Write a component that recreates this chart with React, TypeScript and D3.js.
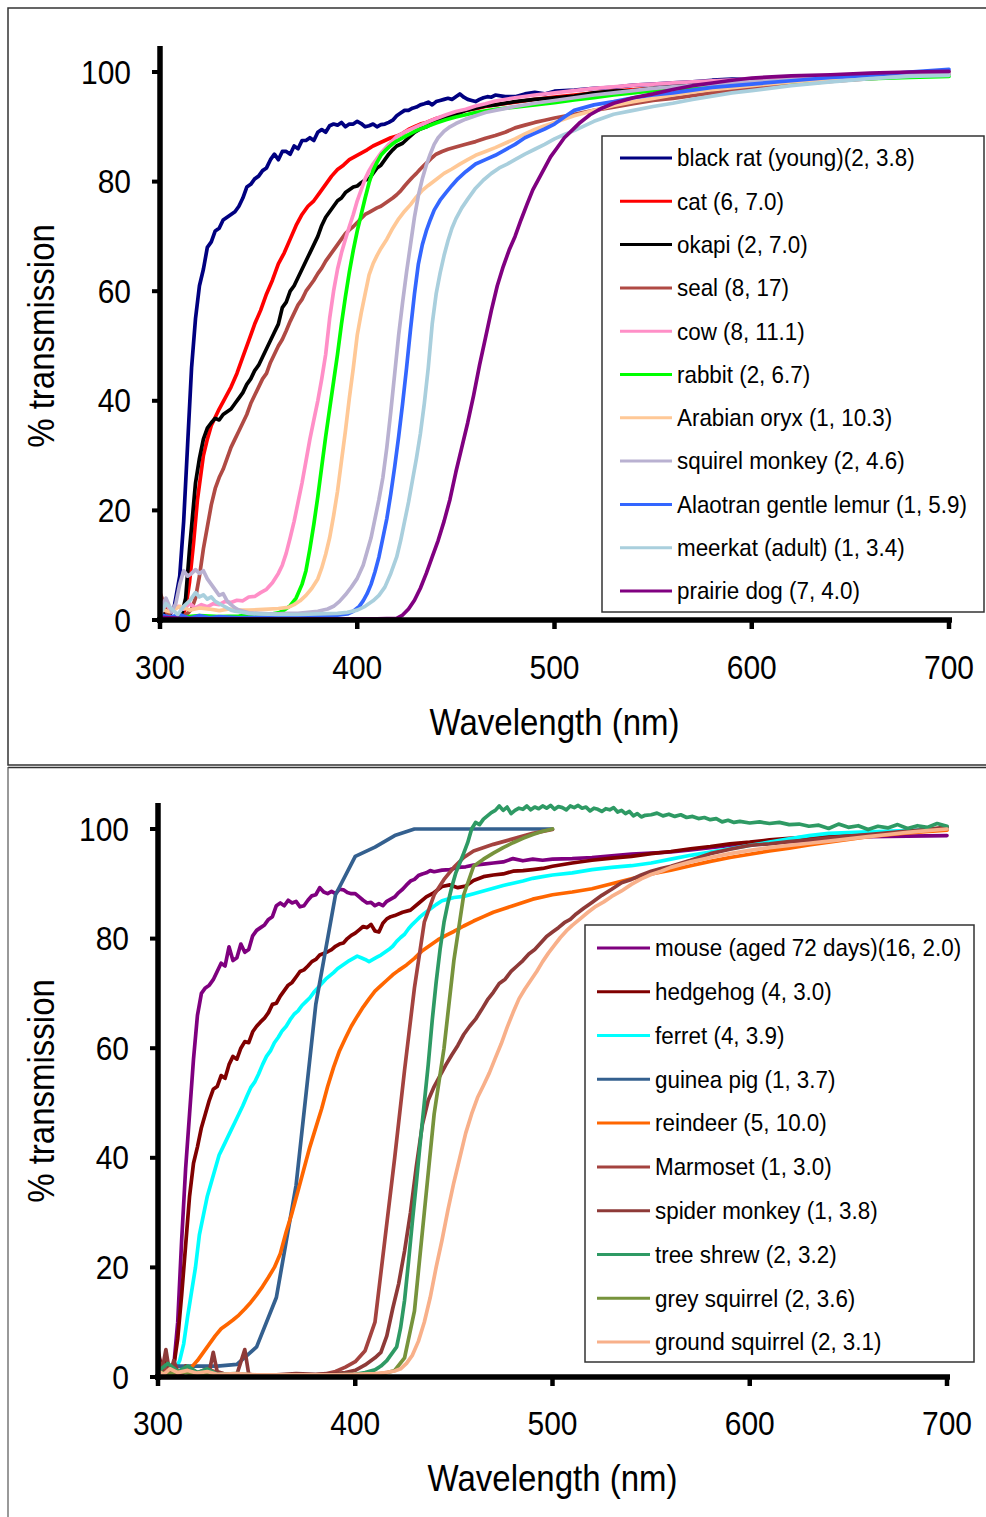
import React from 'react';
import * as d3 from 'd3';

type Pt = [number, number];

// ---------- shared axes ----------
const xTicks = [300, 400, 500, 600, 700];
const yTicks = [0, 20, 40, 60, 80, 100];

// ---------- TOP PANEL ----------
const topNames = [
  'black rat (young)(2, 3.8)', 'cat (6, 7.0)', 'okapi (2, 7.0)', 'seal (8, 17)', 'cow (8, 11.1)',
  'rabbit (2, 6.7)', 'Arabian oryx (1, 10.3)', 'squirel monkey (2, 4.6)', 'Alaotran gentle lemur (1, 5.9)',
  'meerkat (adult) (1, 3.4)', 'prairie dog (7, 4.0)',
];
const topColors = ['#000080', '#FF0000', '#000000', '#B04A44', '#FF8FC7', '#00FF00', '#FFC896', '#B9B1D1', '#3366FF', '#A9CFDD', '#800080'];

const blackRat: Pt[] = [[300,1],[304,0.5],[307,2],[310,8],[312,18],[314,32],[316,46],[318,55],[320,61],[322,64],[324,68],[326,69],[328,71],[330,71.5],[332,73],[334,73.5],[336,74],[338,74.5],[340,75.5],[342,77],[344,79],[346,79.5],[348,80.5],[350,81],[352,82],[354,82.5],[356,84],[358,85],[360,84],[362,85.5],[364,85.5],[366,85],[368,86.5],[370,86],[372,87.5],[374,87.5],[376,88],[378,87.5],[380,89],[382,89.5],[384,89],[386,90.2],[388,90.5],[390,90.3],[392,90.8],[394,90],[396,90.5],[398,90.5],[400,91],[402,90.6],[404,90],[406,90.2],[408,90.5],[410,90],[412,90.4],[414,90.5],[416,90.8],[418,91.2],[420,92],[422,92.5],[424,93],[426,93],[428,93.4],[430,93.6],[432,94],[434,94.2],[436,94.5],[438,94],[440,94.6],[442,94.8],[444,95],[446,95.2],[448,95],[450,95.5],[452,96],[454,95.4],[456,95],[458,94.8],[460,94.6],[462,95],[464,95.3],[466,95.5],[468,95.4],[470,95.8],[475,95.5],[480,95.5],[485,96],[490,96.3],[495,96],[500,96.5],[510,96.7],[520,97],[530,97.2],[540,97.6],[550,97.8],[560,98],[570,98.2],[580,98.5],[590,98.7],[600,98.6],[620,99],[640,99.2],[660,99.5],[680,99.8],[700,100]];
const cat: Pt[] = [[300,3],[303,1],[306,0.5],[309,0.5],[311,0.8],[313,2],[315,7],[317,14],[319,22],[322,30],[324,33],[326,35.5],[328,37],[330,38.5],[333,40.5],[336,42.5],[339,45],[342,48],[345,51],[348,54],[351,56.5],[354,59.5],[357,62],[360,65],[363,67],[366,69.5],[369,72],[372,74],[375,75.5],[378,76.5],[381,78],[384,79.5],[387,81],[390,82.2],[393,83],[396,84],[399,84.6],[402,85.2],[405,85.8],[408,86.5],[411,87],[414,87.5],[417,88],[420,88.3],[423,88.8],[426,89.5],[429,90],[432,90.5],[435,90.8],[440,91.5],[445,92],[450,92.5],[455,93],[460,93.3],[465,93.7],[470,94],[480,94.5],[490,95],[500,95.4],[510,95.8],[520,96.2],[530,96.5],[540,96.8],[550,97],[560,97.3],[570,97.5],[580,97.8],[590,98],[600,98.1],[620,98.4],[640,98.8],[660,99.1],[680,99.4],[700,99.6]];
const okapi: Pt[] = [[300,2],[303,0.5],[306,0.5],[309,0.5],[311,1],[313,4],[315,13],[317,21],[318,25],[320,29.5],[322,33],[324,35],[326,36],[328,36.8],[330,36.5],[332,37.5],[334,38],[336,38.5],[338,39.5],[340,40.5],[342,41.5],[344,43],[346,44],[348,45.5],[350,46.5],[352,48],[354,49.5],[356,51],[358,52.5],[360,54],[362,57],[364,58],[366,60],[368,61],[370,62.5],[372,64],[374,65.5],[376,67],[378,68.5],[380,70],[382,72],[384,73.5],[386,74.5],[388,75.5],[390,76.5],[392,77],[394,78],[396,78.5],[398,79],[400,79.2],[402,79.8],[404,80.3],[406,80.5],[408,81.5],[410,82.5],[412,83],[414,84],[416,85],[418,85.8],[420,86.5],[423,87],[426,88],[429,89],[432,89.6],[435,90],[440,91],[445,91.8],[450,92.2],[455,93],[460,93.4],[465,93.8],[470,94],[480,94.6],[490,95],[500,95.3],[510,95.6],[520,96.2],[530,96.5],[540,96.6],[550,97],[560,97.4],[580,97.8],[600,98.2],[620,98.5],[640,98.9],[660,99.2],[680,99.5],[700,99.8]];
const seal: Pt[] = [[300,5],[302,3],[304,1],[306,0.5],[308,0.3],[310,0.5],[312,0.8],[314,1.2],[316,2],[318,4],[320,8],[322,13],[324,17],[326,21],[328,24],[330,26],[332,27.5],[334,29.5],[336,31.5],[338,33],[340,34.5],[342,36],[344,37.5],[346,39.5],[348,41],[350,42.5],[352,44],[354,45],[356,47],[358,48.5],[360,50],[362,51.2],[364,52.8],[366,54.5],[368,56],[370,57.5],[372,58.5],[374,60],[376,61],[378,62],[380,63.2],[382,64.2],[384,65.5],[386,66.5],[388,67.5],[390,68.5],[392,69.5],[394,70.5],[396,71.2],[398,71.8],[400,72.5],[402,73.3],[404,74],[406,74.4],[408,74.8],[410,75.2],[412,75.5],[414,76],[416,76.5],[418,77],[420,77.6],[422,78.3],[424,79.2],[426,80],[428,80.8],[430,81.5],[432,82.3],[434,83],[436,83.7],[438,84.4],[440,85],[443,85.5],[446,85.9],[450,86.3],[455,86.8],[460,87.3],[465,87.9],[470,88.4],[475,89],[480,89.8],[485,90.3],[490,90.8],[495,91.2],[500,91.6],[510,92.3],[520,93],[530,93.6],[540,94.2],[550,94.8],[560,95.2],[570,95.7],[580,96.2],[590,96.6],[600,97],[620,97.7],[640,98.3],[660,98.8],[680,99.2],[700,99.6]];
const cow: Pt[] = [[300,1],[303,3],[306,1.5],[309,2.5],[312,2],[315,3],[318,2.2],[321,2.8],[324,2.4],[327,3],[330,2.8],[333,3.4],[336,3.2],[339,3.6],[342,3.5],[345,4.2],[348,4.3],[351,5],[354,5.6],[357,6.8],[360,8.5],[362,10],[364,12.2],[366,15],[368,18],[370,21.5],[372,25],[374,29],[376,33],[378,36.5],[380,40],[382,44],[384,48.5],[386,55],[388,60],[390,64],[392,67],[394,69.5],[396,71.8],[398,74],[400,76.5],[402,78.5],[404,80.5],[406,82],[408,83.2],[410,84.2],[412,85.2],[414,86],[416,86.8],[418,87.5],[420,88.2],[425,89.2],[430,90],[435,90.8],[440,91.5],[445,92.2],[450,92.8],[455,93.2],[460,93.8],[465,94.2],[470,94.7],[480,95.3],[490,95.8],[500,96.2],[510,96.6],[520,97],[530,97.3],[540,97.6],[550,97.8],[560,98],[580,98.4],[600,98.7],[620,99],[640,99.2],[660,99.5],[680,99.7],[700,100]];
const rabbit: Pt[] = [[300,0.5],[310,0.5],[320,0.8],[330,0.6],[340,0.7],[345,0.9],[350,0.8],[355,1],[360,1.3],[363,1.8],[366,2.6],[369,4],[372,6.5],[374,9],[376,13],[378,17.5],[380,22.5],[382,28],[384,33.5],[386,38.5],[388,43.5],[390,48.5],[392,54],[394,59],[396,63.5],[398,67.5],[400,71],[402,74],[404,77],[406,79.8],[408,82],[410,83.5],[412,84.8],[414,85.6],[416,86.3],[418,86.9],[420,87.4],[425,88.4],[430,89.3],[435,90],[440,90.7],[445,91.3],[450,91.8],[455,92.2],[460,92.6],[470,93.2],[480,93.6],[490,94],[500,94.4],[510,94.9],[520,95.3],[530,95.8],[540,96.2],[550,96.6],[560,96.9],[580,97.4],[600,97.8],[620,98.2],[640,98.5],[660,98.8],[680,99],[700,99.2]];
const oryx: Pt[] = [[300,2],[305,1.5],[310,2.5],[315,1.8],[320,2.2],[325,2],[330,1.7],[335,2],[340,1.8],[345,1.8],[350,1.9],[355,2],[360,2.1],[365,2.3],[368,2.8],[371,3.5],[374,4.5],[377,5.8],[380,7.5],[382,9.5],[384,12],[386,15],[388,19],[390,23.5],[392,29],[394,34.5],[396,40.5],[398,46],[400,52],[402,56],[404,59.5],[406,63],[408,65],[410,66.5],[412,67.8],[415,69.5],[418,71.5],[421,73.2],[424,74.6],[427,75.8],[430,77.2],[433,78.4],[436,79.3],[440,80.4],[444,81.5],[448,82.3],[452,83.2],[456,84],[460,84.8],[465,85.5],[470,86.2],[475,87],[480,87.8],[485,88.7],[490,89.5],[495,90.2],[500,90.8],[510,92],[520,93],[530,93.9],[540,94.6],[550,95.2],[560,95.8],[570,96.3],[580,96.8],[600,97.5],[620,98.2],[640,98.7],[660,99.1],[680,99.5],[700,99.8]];
const squirrelMonkey: Pt[] = [[300,2],[303,4],[306,1.5],[308,3],[310,6.5],[312,9],[314,8],[316,8.5],[318,9.2],[320,8.5],[322,9],[324,7.5],[326,6.5],[328,5.5],[330,4.5],[332,4.8],[334,3.5],[336,2.8],[338,2.2],[340,1.8],[345,1.3],[350,1.2],[355,1.1],[360,1.1],[365,1.2],[370,1.2],[375,1.4],[380,1.6],[385,2],[388,2.5],[391,3.4],[394,4.6],[397,6],[400,7.6],[403,10],[405,12.5],[407,15],[409,18.5],[411,22],[413,26],[415,31.5],[417,38],[419,45],[421,52],[423,58],[425,63.5],[427,68.5],[429,73.5],[431,77.5],[433,80.5],[435,83],[437,85],[439,86.8],[441,88],[444,89.2],[447,90],[450,90.6],[455,91.4],[460,92],[465,92.6],[470,93],[480,93.7],[490,94.3],[500,94.8],[510,95.3],[520,95.8],[530,96.2],[540,96.6],[550,97],[560,97.3],[580,97.8],[600,98.2],[620,98.6],[640,99],[660,99.2],[680,99.5],[700,99.7]];
const lemur: Pt[] = [[300,1],[305,0.5],[310,1],[315,0.3],[320,0.8],[325,0.4],[330,0.6],[340,0.4],[350,0.5],[360,0.5],[370,0.6],[380,0.7],[390,0.9],[395,1.1],[398,1.6],[401,2.5],[403,3.5],[405,4.8],[407,6.5],[409,8.8],[411,11.5],[413,15],[415,18.5],[417,23],[419,28],[421,33.5],[423,39.5],[425,46],[427,53],[429,59.5],[431,65],[433,68.5],[435,71],[437,73],[439,74.8],[442,76.6],[445,78],[448,79.3],[451,80.5],[455,81.8],[460,83.2],[465,84],[470,84.8],[475,85.8],[480,86.8],[485,88],[490,88.8],[495,89.6],[500,90.5],[505,91.8],[510,93],[520,94],[530,94.6],[540,95.3],[550,95.8],[560,96.2],[570,96.7],[580,97.2],[600,97.8],[620,98.4],[640,99],[660,99.4],[680,100],[700,100.5]];
const meerkat: Pt[] = [[300,1],[303,3],[306,2],[309,1],[312,2.5],[315,3.5],[318,5],[320,4.2],[322,4.6],[324,3.8],[326,4.2],[328,3.4],[330,3],[332,2.6],[334,2.2],[336,1.8],[338,1.6],[340,1.5],[345,1.2],[350,1.1],[360,1],[370,1],[380,1.1],[390,1.2],[395,1.4],[400,1.8],[404,2.5],[408,3.5],[411,4.5],[414,6],[417,8.5],[420,11.5],[422,14.5],[424,18],[426,21.5],[428,25.5],[430,29.5],[432,34],[434,39.5],[436,46],[438,54],[440,59.5],[442,63.3],[444,66.5],[446,69.2],[448,71.5],[450,73.2],[453,75.2],[456,76.8],[460,78.8],[464,80.3],[468,81.5],[472,82.5],[476,83.2],[480,84],[485,85],[490,85.9],[495,86.8],[500,87.8],[505,88.6],[510,89.3],[520,91],[530,92.3],[540,93],[550,93.7],[560,94.3],[570,95],[580,95.6],[590,96.2],[600,96.6],[620,97.5],[640,98.2],[660,98.8],[680,99.2],[700,99.4]];
const prairieDog: Pt[] = [[300,0.5],[310,0.3],[320,0.2],[330,0.2],[340,0.2],[350,0.2],[360,0.2],[370,0.2],[380,0.2],[390,0.2],[400,0.2],[410,0.2],[420,0.3],[423,0.9],[426,2],[429,3.6],[432,5.8],[435,8.5],[438,11.5],[441,14.5],[444,18],[447,22],[450,27],[453,31.5],[456,36],[459,41],[462,46.5],[465,51.5],[468,56.5],[471,61],[474,64.5],[477,67.5],[480,70],[483,73],[486,75.8],[489,78.5],[492,80.5],[495,82.5],[498,84.5],[501,86],[505,88],[509,89.4],[513,90.8],[518,92.2],[524,93.4],[530,94.3],[540,95.3],[550,96],[560,96.8],[570,97.5],[580,98],[590,98.5],[600,98.9],[620,99.3],[640,99.5],[660,99.8],[680,100],[700,100.1]];

const topSeries = [blackRat, cat, okapi, seal, cow, rabbit, oryx, squirrelMonkey, lemur, meerkat, prairieDog];

// ---------- BOTTOM PANEL ----------
const bottomNames = [
  'mouse (aged 72 days)(16, 2.0)', 'hedgehog (4, 3.0)', 'ferret (4, 3.9)', 'guinea pig (1, 3.7)', 'reindeer (5, 10.0)',
  'Marmoset (1, 3.0)', 'spider monkey (1, 3.8)', 'tree shrew (2, 3.2)', 'grey squirrel (2, 3.6)', 'ground squirrel (2, 3.1)',
];
const bottomColors = ['#7F007F', '#800000', '#00FFFF', '#34608F', '#FF6600', '#A4433F', '#8E3A38', '#2E9A64', '#77933C', '#F8B08A'];

const mouse: Pt[] = [[300,4],[302,2],[304,0.5],[306,0.5],[308,2],[310,10],[312,25],[314,38],[316,48],[318,58],[320,66],[322,70],[324,71],[326,71.5],[328,72.5],[330,74],[332,75.5],[334,75],[336,78.5],[338,76],[340,76.5],[342,79],[344,77.5],[346,78],[348,80.5],[350,81.5],[352,82],[354,82.5],[356,83.5],[358,84],[360,86],[362,86.5],[364,86],[366,87],[368,86.5],[370,86.8],[372,85.8],[374,86],[376,87],[378,87.8],[380,88],[382,89.3],[384,88.5],[386,88.2],[388,88.6],[390,88.2],[392,89],[394,88.9],[396,88.4],[398,88.2],[400,88.2],[402,87.6],[404,87],[406,86.5],[408,86.6],[410,86],[412,86.4],[414,86],[416,86.8],[418,87.2],[420,87.6],[422,88.4],[424,89],[426,89.8],[428,90.5],[430,90.8],[432,91.5],[434,91.8],[436,92],[438,92.4],[440,92.2],[444,92.5],[448,92.6],[452,93],[456,93.1],[460,93.4],[465,93.6],[470,93.8],[475,94],[480,94.6],[485,94.2],[490,94.5],[495,94.3],[500,94.5],[510,94.6],[520,94.8],[530,95.1],[540,95.4],[550,95.6],[560,95.8],[570,96.2],[580,96.6],[590,97],[600,97.2],[610,97.4],[620,97.7],[640,98.2],[660,98.6],[680,98.7],[700,98.8]];
const hedgehog: Pt[] = [[300,5],[302,1],[304,3],[306,0.5],[308,2],[310,7],[312,15],[314,24],[316,33],[318,39],[320,42],[322,45.5],[324,48],[326,50.5],[328,52.5],[330,53],[332,55],[334,54.5],[336,57],[338,58.5],[340,58],[342,60],[344,61.2],[346,61],[348,63],[350,64],[352,64.8],[354,65.5],[356,66.5],[358,68],[360,68.2],[362,69.5],[364,70.5],[366,71.5],[368,72],[370,73],[372,74],[374,74.3],[376,75],[378,75.8],[380,76.2],[382,77],[384,77.3],[386,77.6],[388,78],[390,78.6],[392,79],[394,79.2],[396,80],[398,80.6],[400,81],[402,81.6],[404,82.2],[406,82],[408,82.6],[410,81.4],[412,81.2],[414,82.8],[416,83.6],[418,84],[420,84.2],[424,84.8],[428,85.2],[432,86.4],[436,87.6],[440,88.4],[444,89.5],[448,89.8],[452,89.3],[456,89.6],[460,90.6],[465,91.3],[470,91.6],[475,91.8],[480,92.3],[485,92.4],[490,92.6],[495,92.8],[500,93.2],[510,93.8],[520,94.3],[530,94.7],[540,95],[550,95.5],[560,95.9],[570,96.4],[580,96.8],[590,97.3],[600,97.6],[610,98],[620,98.3],[640,98.8],[660,99.2],[680,99.6],[700,100.1]];
const ferret: Pt[] = [[300,3],[303,1],[306,1],[309,1.5],[311,3],[313,6],[315,11],[317,15.5],[319,20],[321,26],[323,29.5],[325,33],[327,35.5],[329,38],[331,40.5],[333,42],[335,43.5],[337,45],[339,46.5],[341,48],[343,49.5],[345,51.2],[347,52.8],[349,53.8],[351,55.3],[353,57],[355,58.5],[357,59.5],[359,61],[361,62],[363,63.2],[365,64],[367,65.2],[369,66.2],[371,66.8],[373,67.8],[375,68.5],[377,69.2],[379,70.2],[381,71],[383,71.8],[385,72.6],[387,73.2],[389,73.8],[391,74.5],[393,75],[395,75.5],[397,76],[399,76.4],[401,76.8],[403,76.5],[405,76.2],[407,75.8],[409,76.2],[411,76.6],[413,77],[415,77.5],[417,78],[419,78.6],[421,79.5],[423,80.2],[425,80.8],[427,81.8],[429,82.6],[431,83.3],[433,84],[435,84.6],[438,85.4],[441,86.2],[444,86.9],[447,87.2],[450,87.5],[455,87.7],[460,88.2],[465,88.7],[470,89.2],[475,89.7],[480,90.1],[485,90.5],[490,91],[495,91.3],[500,91.6],[510,92],[520,92.6],[530,93],[540,93.3],[550,93.8],[560,94.5],[570,95.2],[580,95.8],[590,96.4],[600,97],[610,97.6],[620,98.2],[630,98.8],[640,99.2],[660,99.5],[680,99.7],[700,100]];
const guineaPig: Pt[] = [[300,2],[310,2],[320,2],[330,2],[340,2.3],[350,5.5],[360,14.5],[370,35],[380,68],[390,88],[400,95],[410,96.7],[420,98.8],[430,100],[440,100],[450,100],[460,100],[470,100],[480,100],[490,100],[500,100]];
const reindeer: Pt[] = [[300,2],[305,1],[310,0.8],[314,1],[317,1.8],[320,3],[323,4.5],[326,6],[329,7.5],[332,8.8],[335,9.6],[338,10.4],[341,11.3],[344,12.4],[347,13.6],[350,15],[353,16.5],[356,18.2],[359,20],[362,22.5],[365,26.5],[368,30],[371,34],[374,38],[377,42],[380,45.5],[383,49],[386,53],[389,56.5],[392,59.5],[395,61.8],[398,64],[401,65.8],[404,67.5],[407,69],[410,70.4],[413,71.4],[416,72.4],[419,73.4],[422,74.2],[426,75.2],[430,76.4],[434,77.8],[438,78.8],[442,79.8],[446,80.6],[450,81.3],[455,82.3],[460,83.2],[465,84],[470,84.8],[475,85.4],[480,86],[485,86.6],[490,87.2],[495,87.6],[500,88],[510,88.5],[520,89.1],[530,90],[540,90.9],[550,91.8],[560,92.5],[570,93.3],[580,94.1],[590,94.8],[600,95.4],[610,96],[620,96.5],[630,97.1],[640,97.6],[660,98.6],[680,99.3],[700,99.8]];
const marmoset: Pt[] = [[300,3],[303,1],[306,2],[308,0.5],[312,0.5],[316,1.5],[320,0.8],[325,1.5],[330,0.8],[335,0.5],[340,0.3],[350,0.3],[360,0.3],[370,0.3],[380,0.4],[385,0.6],[390,1],[395,1.8],[400,2.8],[405,4.8],[410,10],[415,25],[420,40],[425,56],[430,71],[435,83],[440,88],[445,90.8],[450,93],[455,94.8],[460,96],[470,97.2],[480,98.2],[490,99.2],[500,99.9]];
const spiderMonkey: Pt[] = [[300,4],[302,1],[304,5],[306,0.5],[308,3],[310,1],[312,0.5],[314,2],[316,0.5],[318,1],[322,0.5],[326,1],[328,4.5],[330,1],[334,0.5],[340,0.5],[344,5],[346,0.5],[350,0.3],[360,0.4],[370,0.6],[380,0.5],[390,0.6],[395,0.8],[400,1.2],[405,2.2],[410,3.5],[413,4.5],[416,7.5],[419,12.5],[422,17],[425,23],[428,30],[431,38.5],[434,46],[437,50.5],[440,53],[443,55],[446,57],[449,58.8],[452,60.5],[455,62.5],[458,64],[461,65.3],[464,67],[467,68.8],[470,70.2],[473,71.8],[476,72.6],[479,74],[482,75],[485,76],[488,77.2],[491,78],[494,79.2],[497,80.4],[500,81.2],[503,82],[506,82.9],[509,83.5],[512,84.5],[516,85.6],[520,86.6],[525,87.9],[530,89],[535,90.2],[540,90.8],[545,91.6],[550,92.3],[555,92.8],[560,93.2],[570,94.3],[580,95.5],[590,96.3],[600,97],[610,97.3],[620,97.7],[630,98],[640,98.4],[650,98.7],[660,99],[670,99.3],[680,99.6],[690,99.9],[700,100.4]];
const treeShrew: Pt[] = [[300,1],[305,2.5],[310,1],[315,2],[320,0.8],[325,1.5],[330,0.5],[340,0.6],[350,0.3],[360,0.3],[370,0.3],[380,0.3],[390,0.4],[400,0.5],[405,0.8],[410,1.3],[413,2],[416,3],[419,4.5],[421,5.5],[423,9],[425,14],[427,21],[429,28.5],[431,35.5],[433,43],[435,50],[437,57],[439,65],[441,72],[443,78],[445,83],[447,86.5],[449,89.5],[451,92],[453,93.8],[455,95.6],[457,97.5],[459,100],[461,101.2],[463,100.8],[465,101.8],[467,102.4],[469,103],[471,103.4],[473,104.2],[475,103.4],[477,104],[479,102.8],[481,103.4],[483,103.8],[485,103.6],[487,104.2],[489,103.5],[491,104],[493,103.7],[495,104.2],[497,103.8],[499,104.3],[501,103.6],[503,104.1],[505,103.9],[507,103.5],[509,104.2],[511,103.9],[513,104.3],[515,103.8],[517,104],[519,103.3],[521,103.8],[523,103.6],[525,103.2],[527,103.7],[529,103.5],[531,103.9],[533,103.1],[535,103.4],[537,102.8],[539,103.2],[541,102.4],[543,102.8],[545,102.2],[547,102.5],[550,102.6],[553,102.9],[556,102.4],[559,102.7],[562,102.3],[565,102.6],[568,102.1],[571,102.3],[574,101.9],[577,102.1],[580,101.7],[583,101.9],[586,101.3],[589,101.6],[592,101.2],[595,101.4],[600,101.1],[605,101.3],[610,101],[615,101.2],[620,100.8],[625,100.9],[630,100.5],[635,100.7],[640,100.1],[645,100.9],[650,100.3],[655,100.6],[660,99.9],[665,100.5],[670,100.2],[675,100.8],[680,100.1],[685,100.6],[690,100.3],[695,101],[700,100.5]];
const greySquirrel: Pt[] = [[300,1],[305,0.5],[310,1],[320,0.5],[330,0.4],[340,0.3],[350,0.3],[360,0.3],[370,0.3],[380,0.3],[390,0.3],[400,0.3],[410,0.5],[415,0.7],[420,1.2],[425,3.5],[430,12],[435,30],[440,48],[445,60],[450,76],[455,88],[460,93.2],[465,94.5],[470,95.6],[475,96.6],[480,97.5],[485,98.3],[490,99],[495,99.6],[500,100]];
const groundSquirrel: Pt[] = [[300,1],[303,0.5],[306,1.5],[310,0.8],[315,1.2],[320,0.7],[325,1],[330,0.5],[340,0.6],[350,0.4],[360,0.4],[370,0.4],[380,0.4],[390,0.4],[400,0.5],[410,0.6],[415,0.8],[420,1.1],[423,1.5],[426,2.5],[429,4],[432,6.5],[435,10],[438,14.5],[441,20],[444,25],[447,30.5],[450,35.5],[453,40],[456,44.5],[459,48],[462,51],[465,53.2],[468,55.5],[471,58.2],[474,60.8],[477,63.8],[480,66.5],[483,69],[486,70.8],[489,72.4],[492,74],[495,75.8],[498,77.4],[501,78.8],[504,80.2],[507,81.4],[510,82.4],[514,83.6],[518,84.8],[522,85.9],[526,86.7],[530,87.7],[535,88.7],[540,89.9],[545,90.9],[550,91.7],[555,92.3],[560,93],[570,94],[580,94.8],[590,95.5],[600,96.1],[610,96.6],[620,97],[630,97.4],[640,97.8],[650,98.2],[660,98.6],[670,99],[680,99.4],[690,99.7],[700,100]];

const bottomSeries = [mouse, hedgehog, ferret, guineaPig, reindeer, marmoset, spiderMonkey, treeShrew, greySquirrel, groundSquirrel];

const FONT = '"Liberation Sans", Arial, sans-serif';

interface PanelCfg {
  x0: number; x1: number; yZero: number; yHundred: number; yAxisTop: number;
  tickLabelY: number; yTickLabelX: number; yTitleY: number; xTitleY: number;
  legend: { x: number; y: number; w: number; h: number; row0: number; step: number; l0: number; l1: number; tx: number };
}

function Panel({ cfg, names, colors, series }: { cfg: PanelCfg; names: string[]; colors: string[]; series: Pt[][] }) {
  const x = d3.scaleLinear().domain([300, 700]).range([cfg.x0, cfg.x1]);
  const y = d3.scaleLinear().domain([0, 100]).range([cfg.yZero, cfg.yHundred]);
  const line = d3.line<Pt>().x(d => x(d[0])).y(d => y(d[1]));
  const lg = cfg.legend;
  return (
    <g>
      {series.map((s, i) => (
        <path key={i} d={line(s) || ''} fill="none" stroke={colors[i]} strokeWidth={3.7} strokeLinejoin="round" strokeLinecap="round" />
      ))}
      {/* axes */}
      <line x1={x(300)} x2={x(300)} y1={cfg.yAxisTop} y2={cfg.yZero + 3} stroke="#000" strokeWidth={5.5} />
      <line x1={x(300) - 3} x2={x(700) + 3} y1={cfg.yZero} y2={cfg.yZero} stroke="#000" strokeWidth={5.5} />
      {yTicks.map(t => (
        <g key={'y' + t}>
          <line x1={x(300) - 8} x2={x(300)} y1={y(t)} y2={y(t)} stroke="#000" strokeWidth={4} />
          <text transform={`translate(${cfg.yTickLabelX},${y(t)}) scale(1,1.12)`} textAnchor="end" dominantBaseline="central" fontFamily={FONT} fontSize={30} fill="#000">{t}</text>
        </g>
      ))}
      {xTicks.map(t => (
        <g key={'x' + t}>
          <line x1={x(t)} x2={x(t)} y1={cfg.yZero} y2={cfg.yZero + 9} stroke="#000" strokeWidth={4.5} />
          <text transform={`translate(${x(t)},${cfg.tickLabelY}) scale(1,1.12)`} textAnchor="middle" dominantBaseline="central" fontFamily={FONT} fontSize={30} fill="#000">{t}</text>
        </g>
      ))}
      <text transform={`translate(41,${cfg.yTitleY}) rotate(-90) scale(1,1.1)`} textAnchor="middle" dominantBaseline="central" fontFamily={FONT} fontSize={33} fill="#000">% transmission</text>
      <text transform={`translate(${(cfg.x0 + cfg.x1) / 2},${cfg.xTitleY}) scale(1,1.1)`} textAnchor="middle" dominantBaseline="central" fontFamily={FONT} fontSize={33} fill="#000">Wavelength (nm)</text>
      {/* legend */}
      <rect x={lg.x} y={lg.y} width={lg.w} height={lg.h} fill="#fff" stroke="#333" strokeWidth={1.5} />
      {names.map((n, i) => {
        const ry = lg.row0 + i * lg.step;
        return (
          <g key={'l' + i}>
            <line x1={lg.l0} x2={lg.l1} y1={ry} y2={ry} stroke={colors[i]} strokeWidth={3} />
            <text transform={`translate(${lg.tx},${ry}) scale(1,1.08)`} dominantBaseline="central" fontFamily={FONT} fontSize={22.4} fill="#000">{n}</text>
          </g>
        );
      })}
    </g>
  );
}

const topCfg: PanelCfg = {
  x0: 160, x1: 949, yZero: 620, yHundred: 72, yAxisTop: 46,
  tickLabelY: 667, yTickLabelX: 131, yTitleY: 336, xTitleY: 722,
  legend: { x: 602, y: 136, w: 382, h: 476, row0: 158, step: 43.3, l0: 620, l1: 672, tx: 677 },
};
const bottomCfg: PanelCfg = {
  x0: 158, x1: 947, yZero: 1377, yHundred: 829, yAxisTop: 803,
  tickLabelY: 1423, yTickLabelX: 129, yTitleY: 1091, xTitleY: 1478,
  legend: { x: 585, y: 925, w: 389, h: 437, row0: 948, step: 43.78, l0: 597, l1: 650, tx: 655 },
};

export default function App() {
  return (
    <svg width={986} height={1517} viewBox="0 0 986 1517" style={{ position: 'absolute', left: 0, top: 0, background: '#fff' }}>
      <rect x={0} y={0} width={986} height={1517} fill="#fff" />
      <rect x={8} y={8} width={1000} height={757} fill="none" stroke="#333" strokeWidth={1.5} />
      <line x1={8} x2={986} y1={767.5} y2={767.5} stroke="#333" strokeWidth={1.5} />
      <line x1={8} x2={8} y1={767} y2={1517} stroke="#555" strokeWidth={1.2} />
      <Panel cfg={topCfg} names={topNames} colors={topColors} series={topSeries} />
      <Panel cfg={bottomCfg} names={bottomNames} colors={bottomColors} series={bottomSeries} />
    </svg>
  );
}
